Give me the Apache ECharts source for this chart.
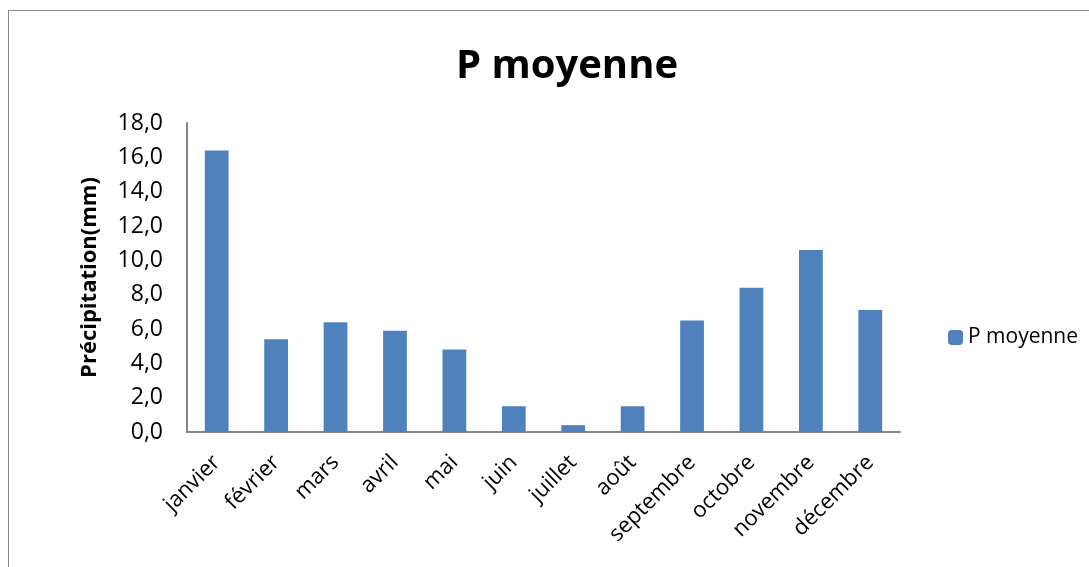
<!DOCTYPE html>
<html>
<head>
<meta charset="utf-8">
<script src="https://cdn.jsdelivr.net/npm/echarts@6/dist/echarts.min.js"></script>
<style>
  html, body { margin: 0; padding: 0; background: #fff; }
  #frame {
    position: absolute; left: 8px; top: 10px; width: 1100px; height: 600px;
    border: 1px solid #8a8a8a; box-sizing: border-box;
  }
  #chart { position: absolute; left: 0; top: 0; width: 1089px; height: 567px; }
</style>
</head>
<body>
<div id="frame"></div>
<div id="chart"></div>
<script>
const months = ["janvier", "février", "mars", "avril", "mai", "juin", "juillet", "août", "septembre", "octobre", "novembre", "décembre"];
const pMoyenne = [16.4, 5.4, 6.4, 5.9, 4.8, 1.5, 0.4, 1.5, 6.5, 8.4, 10.6, 7.1];
const yTicks = [0, 2, 4, 6, 8, 10, 12, 14, 16, 18];

const font = "'Open Sans', 'Noto Sans', sans-serif";
const chart = echarts.init(document.getElementById("chart"));

chart.setOption({
  animation: false,
  textStyle: { fontFamily: font },
  title: {
    text: "P moyenne",
    left: 566,
    top: 42,
    textAlign: "center",
    textStyle: { fontSize: 40, fontWeight: "bold", color: "#000", fontFamily: font },
  },
  legend: {
    data: ["P moyenne"],
    orient: "vertical",
    left: 943,
    top: 322,
    itemWidth: 15,
    itemHeight: 15,
    itemGap: 6,
    textStyle: { fontSize: 21, color: "#000", fontFamily: font },
  },
  grid: { left: 187, right: 189, top: 123, bottom: 135 },
  xAxis: {
    type: "category",
    data: months,
    axisLine: { lineStyle: { color: "#868686", width: 2 } },
    axisTick: { show: false },
    axisLabel: { rotate: 45, fontSize: 22, color: "#000", margin: 27, interval: 0 },
  },
  yAxis: {
    type: "value",
    min: yTicks[0],
    max: yTicks[yTicks.length - 1],
    interval: 2,
    name: "Précipitation(mm)",
    nameLocation: "middle",
    nameGap: 86,
    nameTextStyle: { fontSize: 22, fontWeight: "bold", color: "#000", fontFamily: font },
    axisLine: { show: true, lineStyle: { color: "#868686", width: 2 } },
    axisTick: { show: false },
    splitLine: { show: false },
    axisLabel: {
      fontSize: 23, color: "#000", margin: 24,
      formatter: (v) => v.toFixed(1).replace(".", ","),
    },
  },
  series: [
    {
      name: "P moyenne",
      type: "bar",
      data: pMoyenne,
      barWidth: "40%",
      itemStyle: { color: "#4f81bd" },
    },
  ],
});

// textAlign center on title uses left as the anchor; nudge to match reference centre
chart.setOption({ title: { left: 562 } });
</script>
</body>
</html>
